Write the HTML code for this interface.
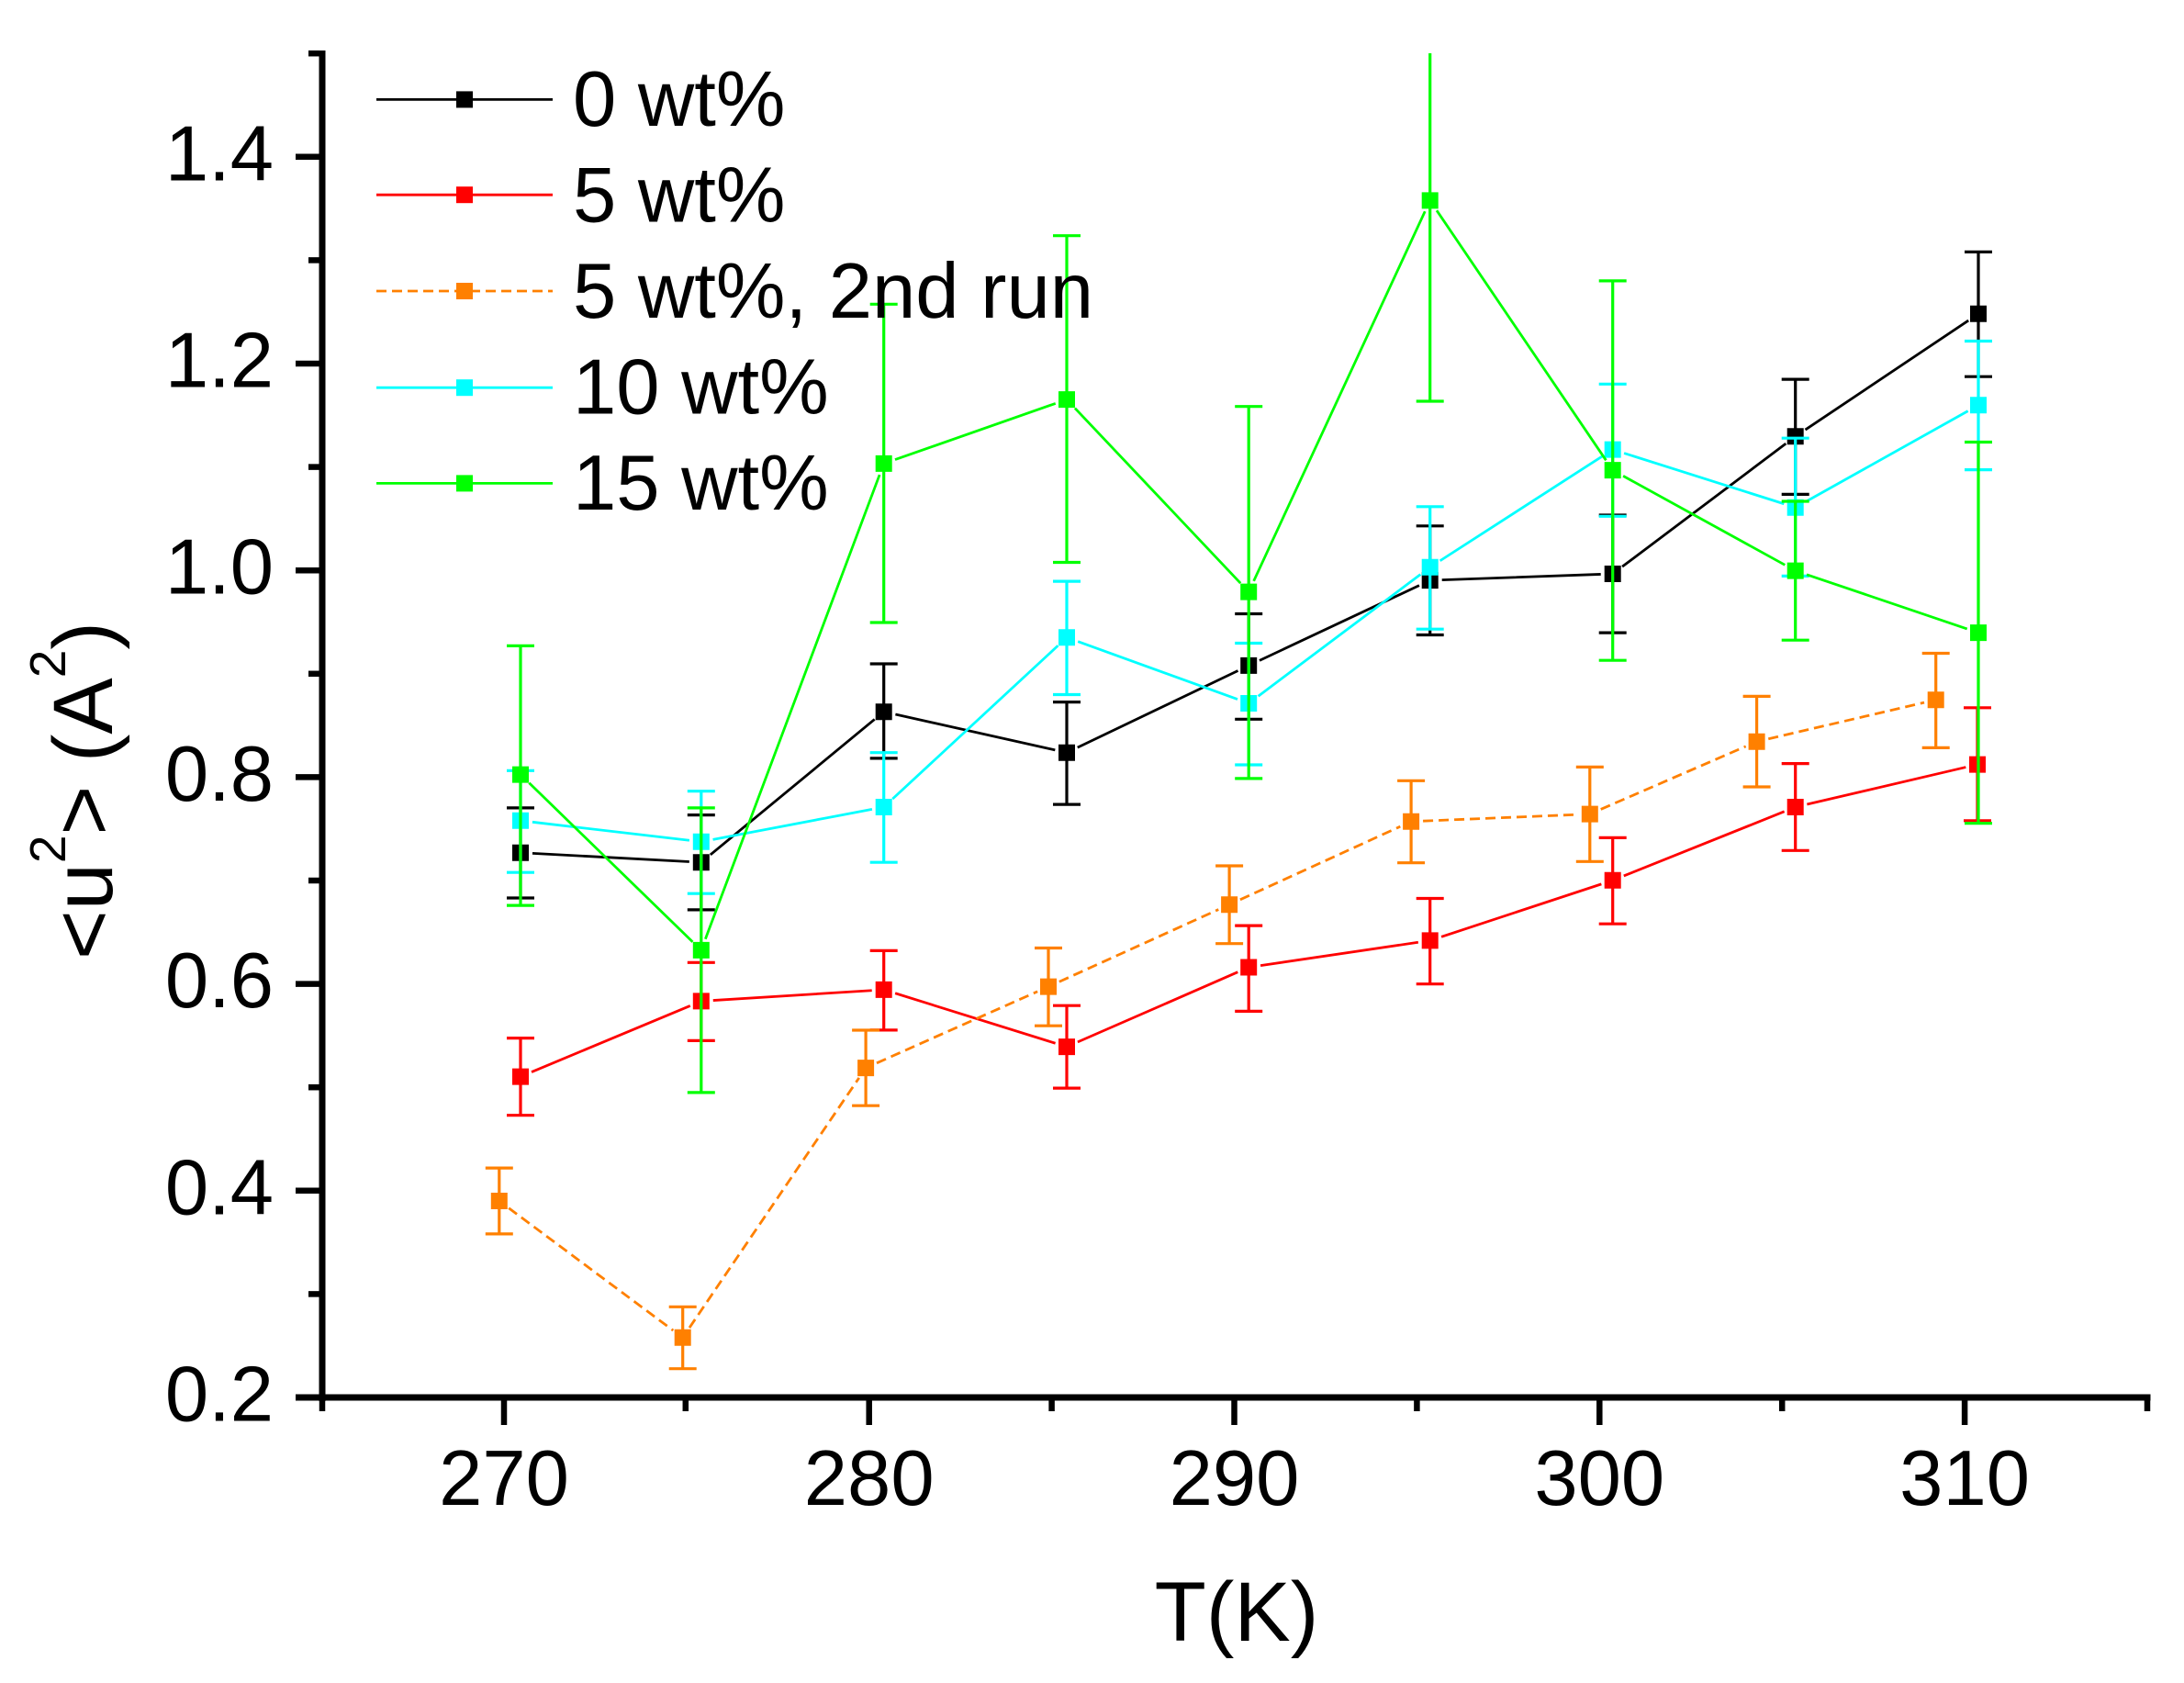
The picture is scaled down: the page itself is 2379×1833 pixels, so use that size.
<!DOCTYPE html>
<html>
<head>
<meta charset="utf-8">
<style>
html,body{margin:0;padding:0;background:#fff;}
svg{display:block;}
text{font-family:"Liberation Sans",Arial,sans-serif;fill:#000;}
</style>
</head>
<body>
<svg xmlns="http://www.w3.org/2000/svg" width="2379" height="1833" viewBox="0 0 2379 1833">
<rect x="0" y="0" width="2379" height="1833" fill="#fff"/>

<!-- ===== data: black (0 wt%) ===== -->
<g fill="none" stroke="#000">
<path stroke-width="2.8" d="M579.98 929.39L750.82 938.51M773.83 930.93L952.67 783.47M975.39 778.03L1149.31 816.87M1173.73 814.09L1348.47 730.51M1371.97 719.37L1545.93 637.63M1570.69 631.64L1743.71 625.46M1767.09 617.18L1945.31 483.12M1966.5 468.07L2144.2 349.03"/>
<path stroke-width="3.2" d="M567 879.9V978M552 879.9h30M552 978h30M763.8 887.6V990.9M748.8 887.6h30M748.8 990.9h30M962.7 723V825.9M947.7 723h30M947.7 825.9h30M1162 764.6V876.1M1147 764.6h30M1147 876.1h30M1360.2 668.5V783.3M1345.2 668.5h30M1345.2 783.3h30M1557.7 572.8V691.5M1542.7 572.8h30M1542.7 691.5h30M1756.7 561V689.1M1741.7 561h30M1741.7 689.1h30M1955.7 413.1V538.4M1940.7 413.1h30M1940.7 538.4h30M2155 274.4V410.2M2140 274.4h30M2140 410.2h30"/>
</g>
<path fill="#000" d="M558 919.7h18v18h-18zM754.8 930.2h18v18h-18zM953.7 766.2h18v18h-18zM1153 810.7h18v18h-18zM1351.2 715.9h18v18h-18zM1548.7 623.1h18v18h-18zM1747.7 616h18v18h-18zM1946.7 466.3h18v18h-18zM2146 332.8h18v18h-18z"/>

<!-- ===== data: red (5 wt%) ===== -->
<g fill="none" stroke="#ff0000">
<path stroke-width="2.8" d="M579 1167.59L751.8 1095.41M776.77 1089.58L949.73 1078.72M975.11 1081.77L1149.59 1136.23M1173.91 1134.9L1348.29 1058.7M1373.06 1051.6L1544.84 1026.3M1570.05 1020.33L1744.35 962.87M1768.77 953.96L1943.63 883.84M1968.36 876.04L2141.34 835.56"/>
<path stroke-width="3.2" d="M567 1130.6V1214.7M552 1130.6h30M552 1214.7h30M763.8 1048.3V1133.4M748.8 1048.3h30M748.8 1133.4h30M962.7 1035.4V1121.9M947.7 1035.4h30M947.7 1121.9h30M1162 1095.2V1185.1M1147 1095.2h30M1147 1185.1h30M1360.2 1008.1V1101.4M1345.2 1008.1h30M1345.2 1101.4h30M1557.7 978.5V1071.7M1542.7 978.5h30M1542.7 1071.7h30M1756.7 912.4V1006.2M1741.7 912.4h30M1741.7 1006.2h30M1955.7 831.6V926.3M1940.7 831.6h30M1940.7 926.3h30M2154 770.8V893.8M2139 770.8h30M2139 893.8h30"/>
</g>
<path fill="#ff0000" d="M558 1163.6h18v18h-18zM754.8 1081.4h18v18h-18zM953.7 1068.9h18v18h-18zM1153 1131.1h18v18h-18zM1351.2 1044.5h18v18h-18zM1548.7 1015.4h18v18h-18zM1747.7 949.8h18v18h-18zM1946.7 870h18v18h-18zM2145 823.6h18v18h-18z"/>

<!-- ===== data: orange (5 wt%, 2nd run) ===== -->
<g fill="none" stroke="#ff8000">
<path stroke-width="2.8" stroke-dasharray="11,6" d="M554.23 1315.76L733.27 1449.04M751 1446.05L935.8 1173.85M954.98 1157.82L1130.12 1079.88M1153.84 1069.23L1327.26 990.57M1350.92 979.8L1525.28 900.15M1550.09 894.21L1718.81 887.14M1743.73 881.42L1901.67 812.88M1926.26 804.75L2096.04 765.15"/>
<path stroke-width="3.2" d="M543.8 1272.1V1343.9M528.8 1272.1h30M528.8 1343.9h30M743.7 1423.3V1490.7M728.7 1423.3h30M728.7 1490.7h30M943.1 1122V1204.2M928.1 1122h30M928.1 1204.2h30M1142 1032.5V1117.2M1127 1032.5h30M1127 1117.2h30M1339.1 943V1027.7M1324.1 943h30M1324.1 1027.7h30M1537.1 850.3V939.7M1522.1 850.3h30M1522.1 939.7h30M1731.8 835.4V938.3M1716.8 835.4h30M1716.8 938.3h30M1913.6 758.4V857M1898.6 758.4h30M1898.6 857h30M2108.7 711.5V814.4M2093.7 711.5h30M2093.7 814.4h30"/>
</g>
<path fill="#ff8000" d="M534.8 1299h18v18h-18zM734.7 1447.8h18v18h-18zM934.1 1154.1h18v18h-18zM1133 1065.6h18v18h-18zM1330.1 976.2h18v18h-18zM1528.1 885.75h18v18h-18zM1722.8 877.6h18v18h-18zM1904.6 798.7h18v18h-18zM2099.7 753.2h18v18h-18z"/>

<!-- ===== data: cyan (10 wt%) ===== -->
<g fill="none" stroke="#00ffff">
<path stroke-width="2.8" d="M579.91 895.31L750.89 915.24M776.57 914.33L949.93 881.42M972.24 870.16L1152.46 703.14M1174.22 698.72L1347.98 761.58M1370.6 758.2L1547.3 625.6M1568.63 610.76L1745.77 496.64M1769.09 493.53L1943.31 548.77M1967.05 546.36L2143.65 447.64"/>
<path stroke-width="3.2" d="M567 839.3V950.2M552 839.3h30M552 950.2h30M763.8 861.7V973.2M748.8 861.7h30M748.8 973.2h30M962.7 819.7V939.2M947.7 819.7h30M947.7 939.2h30M1162 633.1V756.5M1147 633.1h30M1147 756.5h30M1360.2 700.5V833M1345.2 700.5h30M1345.2 833h30M1557.7 551.8V685.2M1542.7 551.8h30M1542.7 685.2h30M1756.7 418.3V562.3M1741.7 418.3h30M1741.7 562.3h30M1955.7 477.2V627.4M1940.7 477.2h30M1940.7 627.4h30M2155 371.5V511.6M2140 371.5h30M2140 511.6h30"/>
</g>
<path fill="#00ffff" d="M558 884.8h18v18h-18zM754.8 907.75h18v18h-18zM953.7 870h18v18h-18zM1153 685.3h18v18h-18zM1351.2 757h18v18h-18zM1548.7 608.8h18v18h-18zM1747.7 480.6h18v18h-18zM1946.7 543.7h18v18h-18zM2146 432.3h18v18h-18z"/>

<!-- ===== data: green (15 wt%) ===== -->
<g fill="none" stroke="#00ff00">
<path stroke-width="2.8" d="M576.32 852.66L754.48 1025.84M768.37 1022.73L958.13 517.07M974.97 500.6L1149.73 439.4M1170.93 444.54L1351.27 635.16M1365.67 632.8L1552.23 230.2M1564.99 229.16L1749.41 501.34M1768.09 518.37L1944.31 615.33M1968.01 625.77L2142.69 684.93"/>
<path stroke-width="3.2" d="M567 703.4V986.1M552 703.4h30M552 986.1h30M763.8 879.9V1189.9M748.8 879.9h30M748.8 1189.9h30M962.7 331.3V678M947.7 331.3h30M947.7 678h30M1162 256.7V612.5M1147 256.7h30M1147 612.5h30M1360.2 442.7V847.9M1345.2 442.7h30M1345.2 847.9h30M1557.7 58V437M1542.7 437h30M1756.7 305.9V719.2M1741.7 305.9h30M1741.7 719.2h30M1955.7 546V697.2M1940.7 546h30M1940.7 697.2h30M2155 481.5V896.7M2140 481.5h30M2140 896.7h30"/>
</g>
<path fill="#00ff00" d="M558 834.6h18v18h-18zM754.8 1025.9h18v18h-18zM953.7 495.9h18v18h-18zM1153 426.1h18v18h-18zM1351.2 635.6h18v18h-18zM1548.7 209.4h18v18h-18zM1747.7 503.1h18v18h-18zM1946.7 612.6h18v18h-18zM2146 680.1h18v18h-18z"/>

<!-- axes -->
<g stroke="#000" fill="none">
  <line x1="351" y1="55" x2="351" y2="1526" stroke-width="7"/>
  <line x1="322" y1="1522" x2="2342.5" y2="1522" stroke-width="7"/>
  <g stroke-width="6.5">
    <line x1="322" y1="1522" x2="348" y2="1522"/>
    <line x1="322" y1="1296.8" x2="348" y2="1296.8"/>
    <line x1="322" y1="1071.6" x2="348" y2="1071.6"/>
    <line x1="322" y1="846.4" x2="348" y2="846.4"/>
    <line x1="322" y1="621.2" x2="348" y2="621.2"/>
    <line x1="322" y1="396" x2="348" y2="396"/>
    <line x1="322" y1="170.8" x2="348" y2="170.8"/>
    <line x1="336" y1="1409.4" x2="348" y2="1409.4"/>
    <line x1="336" y1="1184.2" x2="348" y2="1184.2"/>
    <line x1="336" y1="959" x2="348" y2="959"/>
    <line x1="336" y1="733.8" x2="348" y2="733.8"/>
    <line x1="336" y1="508.6" x2="348" y2="508.6"/>
    <line x1="336" y1="283.4" x2="348" y2="283.4"/>
    <line x1="336" y1="58.2" x2="348" y2="58.2"/>
    <line x1="549" y1="1525" x2="549" y2="1552"/>
    <line x1="946.7" y1="1525" x2="946.7" y2="1552"/>
    <line x1="1344.5" y1="1525" x2="1344.5" y2="1552"/>
    <line x1="1742.3" y1="1525" x2="1742.3" y2="1552"/>
    <line x1="2140.1" y1="1525" x2="2140.1" y2="1552"/>
    <line x1="351" y1="1525" x2="351" y2="1537"/>
    <line x1="746.8" y1="1525" x2="746.8" y2="1537"/>
    <line x1="1145.6" y1="1525" x2="1145.6" y2="1537"/>
    <line x1="1543.4" y1="1525" x2="1543.4" y2="1537"/>
    <line x1="1941.2" y1="1525" x2="1941.2" y2="1537"/>
    <line x1="2339" y1="1525" x2="2339" y2="1537"/>
  </g>
</g>

<!-- y tick labels -->
<g font-size="85" text-anchor="end">
  <text x="298" y="1547.5">0.2</text>
  <text x="298" y="1322.3">0.4</text>
  <text x="298" y="1097.1">0.6</text>
  <text x="298" y="871.9">0.8</text>
  <text x="298" y="646.7">1.0</text>
  <text x="298" y="421.5">1.2</text>
  <text x="298" y="196.3">1.4</text>
</g>
<!-- x tick labels -->
<g font-size="85" text-anchor="middle">
  <text x="549" y="1639">270</text>
  <text x="946.7" y="1639">280</text>
  <text x="1344.5" y="1639">290</text>
  <text x="1742.3" y="1639">300</text>
  <text x="2140.1" y="1639">310</text>
</g>

<!-- axis titles -->
<text x="1347" y="1787" font-size="92" text-anchor="middle">T(K)</text>
<text transform="translate(122,861) rotate(-90)" x="0" y="0" font-size="92" text-anchor="middle">&lt;u<tspan font-size="55" dy="-51">2</tspan><tspan dy="51">&gt; (A</tspan><tspan font-size="55" dy="-51">2</tspan><tspan dy="51">)</tspan></text>

<!-- legend -->
<g stroke-width="2.8">
  <line x1="410" y1="108.4" x2="602" y2="108.4" stroke="#000"/>
  <line x1="410" y1="212.2" x2="602" y2="212.2" stroke="#ff0000"/>
  <line x1="410" y1="317" x2="602" y2="317" stroke="#ff8000" stroke-dasharray="11,6"/>
  <line x1="410" y1="422.2" x2="602" y2="422.2" stroke="#00ffff"/>
  <line x1="410" y1="526.4" x2="602" y2="526.4" stroke="#00ff00"/>
</g>
<rect x="497" y="99.4" width="18" height="18" fill="#000"/>
<rect x="497" y="203.2" width="18" height="18" fill="#ff0000"/>
<rect x="497" y="308" width="18" height="18" fill="#ff8000"/>
<rect x="497" y="413.2" width="18" height="18" fill="#00ffff"/>
<rect x="497" y="517.4" width="18" height="18" fill="#00ff00"/>
<g font-size="85">
  <text x="624" y="137">0 wt%</text>
  <text x="624" y="241.5">5 wt%</text>
  <text x="624" y="346">5 wt%, 2nd run</text>
  <text x="624" y="450.5">10 wt%</text>
  <text x="624" y="555">15 wt%</text>
</g>
</svg>
</body>
</html>
